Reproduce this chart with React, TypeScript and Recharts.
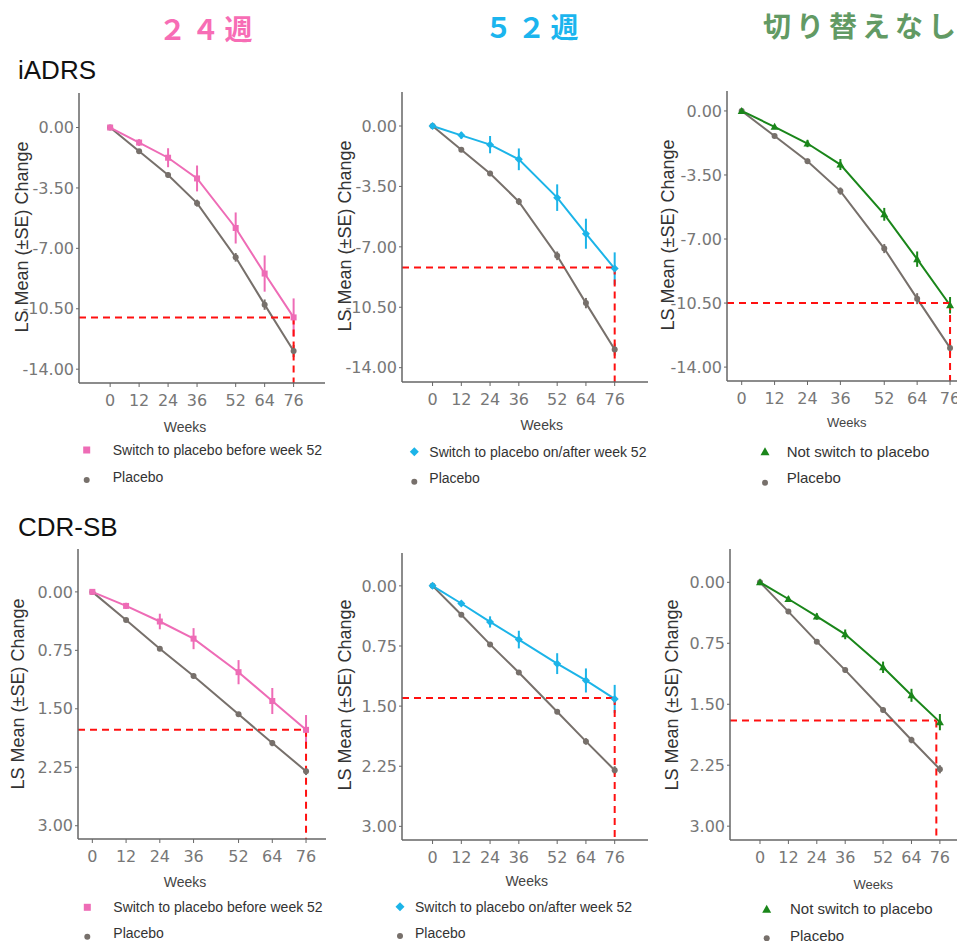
import React from 'react';
import { LineChart, Line, XAxis, YAxis, ErrorBar, ReferenceLine } from 'recharts';

// weeks on the x axis
const weeks = [0, 12, 24, 36, 52, 64, 76];
const iadrsTicks = [0, -3.5, -7, -10.5, -14];
const cdrTicks = [0, 0.75, 1.5, 2.25, 3];

// iADRS (LS mean change)
const iadrsPlacebo = [0, -1.37, -2.75, -4.38, -7.52, -10.26, -12.95];
const iadrsPlaceboSE = [0, 0.12, 0.15, 0.2, 0.25, 0.3, 0.35];
const iadrsSwitch24 = [0, -0.87, -1.75, -2.95, -5.82, -8.46, -11.0];
const iadrsSwitch24SE = [0, 0.2, 0.55, 0.75, 0.9, 1.05, 1.1];
const iadrsSwitch52 = [0, -0.54, -1.08, -1.93, -4.15, -6.24, -8.26];
const iadrsSwitch52SE = [0, 0.2, 0.5, 0.63, 0.77, 0.87, 0.94];
const iadrsNoSwitch = [0, -0.87, -1.78, -2.93, -5.65, -8.1, -10.62];
const iadrsNoSwitchSE = [0, 0.1, 0.2, 0.3, 0.35, 0.42, 0.45];
const iadrsRef = [-11.0, -8.2, -10.5];

// CDR-SB (LS mean change)
const cdrPlacebo = [0, 0.36, 0.73, 1.08, 1.57, 1.94, 2.3];
const cdrPlaceboSE = [0, 0.02, 0.02, 0.03, 0.03, 0.04, 0.05];
const cdrSwitch24 = [0, 0.18, 0.38, 0.6, 1.03, 1.4, 1.77];
const cdrSwitch24SE = [0, 0.04, 0.1, 0.135, 0.155, 0.167, 0.19];
const cdrSwitch52 = [0, 0.22, 0.45, 0.67, 0.97, 1.18, 1.41];
const cdrSwitch52SE = [0, 0.03, 0.07, 0.11, 0.13, 0.15, 0.175];
const cdrNoSwitch = [0, 0.205, 0.42, 0.64, 1.045, 1.39, 1.72];
const cdrNoSwitchSE = [0, 0.03, 0.04, 0.06, 0.07, 0.08, 0.1];
const cdrRef = [1.77, 1.4, 1.7];

const columnTitles = ['２４週', '５２週', '切り替えなし'];
const seriesNames = [
  'Switch to placebo before week 52',
  'Switch to placebo on/after week 52',
  'Not switch to placebo'
];

const PINK = '#ee6cb6';
const CYAN = '#1cb4e8';
const GREEN = '#1a861a';
const GRAY = '#77706b';
const RED = '#ff1010';

function rows(trt: number[], trtSE: number[], pbo: number[], pboSE: number[]) {
  return weeks.map((week, i) => ({
    week,
    trt: trt[i],
    trtSE: trtSE[i],
    pbo: pbo[i],
    pboSE: pboSE[i]
  }));
}

function Marker({ shape, cx, cy, color, size }: any) {
  const s = size / 2;
  if (shape === 'square')
    return <rect x={cx - s} y={cy - s} width={size} height={size} fill={color} />;
  if (shape === 'diamond')
    return (
      <polygon
        points={`${cx},${cy - s - 1} ${cx + s + 1},${cy} ${cx},${cy + s + 1} ${cx - s - 1},${cy}`}
        fill={color}
      />
    );
  if (shape === 'triangle')
    return (
      <polygon
        points={`${cx},${cy - s - 1} ${cx + s + 1},${cy + s} ${cx - s - 1},${cy + s}`}
        fill={color}
      />
    );
  return <circle cx={cx} cy={cy} r={s} fill={color} />;
}

const dotRenderer = (shape: string, color: string, size: number) => (p: any) => (
  <Marker key={`dot-${p.index}`} shape={shape} cx={p.cx} cy={p.cy} color={color} size={size} />
);

function Panel({ cfg }: any) {
  const tickStyle = { fill: '#777', fontSize: 16, fontFamily: 'DejaVu Sans' };
  const xMin = cfg.xDomain[0];
  const yBottom = cfg.reversed ? cfg.yDomain[1] : cfg.yDomain[0];
  return (
    <div style={{ position: 'absolute', left: cfg.left, top: cfg.top }}>
      <LineChart
        width={cfg.width}
        height={cfg.height}
        data={cfg.data}
        margin={{ top: 0, right: 0, bottom: 0, left: 0 }}
      >
        <XAxis
          type='number'
          dataKey='week'
          domain={cfg.xDomain}
          ticks={weeks}
          interval={0}
          allowDataOverflow
          height={40}
          tickSize={4}
          tickMargin={8}
          tick={tickStyle}
          axisLine={{ stroke: '#666', strokeWidth: 1.5 }}
          tickLine={{ stroke: '#666' }}
        />
        <YAxis
          type='number'
          domain={cfg.yDomain}
          ticks={cfg.yTicks}
          interval={0}
          reversed={cfg.reversed}
          allowDataOverflow
          width={60}
          tickSize={3}
          tickMargin={2}
          tick={tickStyle}
          tickFormatter={(v: number) => v.toFixed(2)}
          axisLine={{ stroke: '#666', strokeWidth: 1.5 }}
          tickLine={{ stroke: '#666' }}
        />
        <Line
          type='linear'
          dataKey='pbo'
          stroke={GRAY}
          strokeWidth={2}
          dot={dotRenderer('circle', GRAY, 6)}
          isAnimationActive={false}
        >
          <ErrorBar dataKey='pboSE' width={0} stroke={GRAY} strokeWidth={2} />
        </Line>
        <Line
          type='linear'
          dataKey='trt'
          stroke={cfg.color}
          strokeWidth={2}
          dot={dotRenderer(cfg.shape, cfg.color, 6)}
          isAnimationActive={false}
        >
          <ErrorBar dataKey='trtSE' width={0} stroke={cfg.color} strokeWidth={2} />
        </Line>
        <ReferenceLine
          segment={[
            { x: xMin, y: cfg.ref },
            { x: cfg.refWeek, y: cfg.ref }
          ]}
          stroke={RED}
          strokeWidth={2}
          strokeDasharray='7 5'
        />
        <ReferenceLine
          segment={[
            { x: cfg.refWeek, y: cfg.ref },
            { x: cfg.refWeek, y: yBottom }
          ]}
          stroke={RED}
          strokeWidth={2}
          strokeDasharray='7 5'
        />
      </LineChart>
    </div>
  );
}

function Legend({ cfg }: any) {
  const text = {
    position: 'absolute' as const,
    left: cfg.tx,
    fontSize: cfg.legendSize,
    color: '#333',
    lineHeight: '20px',
    whiteSpace: 'nowrap' as const,
    transform: 'translateY(-50%)'
  };
  return (
    <>
      <svg style={{ position: 'absolute', left: 0, top: 0, overflow: 'visible' }} width={1} height={1}>
        <Marker shape={cfg.shape} cx={cfg.mx} cy={cfg.my1} color={cfg.color} size={7} />
        <Marker shape='circle' cx={cfg.mx} cy={cfg.my2} color={GRAY} size={6} />
      </svg>
      <div style={{ ...text, top: cfg.ty1 }}>{cfg.name}</div>
      <div style={{ ...text, top: cfg.ty2 }}>Placebo</div>
      <div
        style={{
          position: 'absolute',
          left: cfg.wx - 40,
          width: 80,
          top: cfg.wy,
          transform: 'translateY(-50%)',
          textAlign: 'center',
          fontSize: cfg.weeksSize,
          color: '#444',
          lineHeight: '18px'
        }}
      >
        Weeks
      </div>
      <div
        style={{
          position: 'absolute',
          left: cfg.lx - 150,
          top: cfg.ly - 12,
          width: 300,
          height: 24,
          lineHeight: '24px',
          textAlign: 'center',
          fontSize: 18,
          color: '#333',
          whiteSpace: 'nowrap',
          transform: 'rotate(-90deg)'
        }}
      >
        LS Mean (±SE) Change
      </div>
    </>
  );
}

const panels = [
  {
    left: 19, top: 93, width: 306, height: 330,
    xDomain: [-12.9, 89], yDomain: [-14.8, 2], yTicks: iadrsTicks, reversed: false,
    data: rows(iadrsSwitch24, iadrsSwitch24SE, iadrsPlacebo, iadrsPlaceboSE),
    color: PINK, shape: 'square', ref: iadrsRef[0], refWeek: 76, name: seriesNames[0],
    mx: 86.7, my1: 450, my2: 480, tx: 112.7, ty1: 450, ty2: 476.7, legendSize: 14,
    wx: 185, wy: 426.7, weeksSize: 14, lx: 21.7, ly: 236.5
  },
  {
    left: 342, top: 92, width: 306, height: 330,
    xDomain: [-12.75, 89.9], yDomain: [-14.83, 1.97], yTicks: iadrsTicks, reversed: false,
    data: rows(iadrsSwitch52, iadrsSwitch52SE, iadrsPlacebo, iadrsPlaceboSE),
    color: CYAN, shape: 'diamond', ref: iadrsRef[1], refWeek: 76, name: seriesNames[1],
    mx: 414.3, my1: 451.7, my2: 481.7, tx: 429.3, ty1: 451.7, ty2: 478.3, legendSize: 14,
    wx: 541.7, wy: 425, weeksSize: 14, lx: 345, ly: 236
  },
  {
    left: 667, top: 91, width: 308, height: 330,
    xDomain: [-5.36, 85.1], yDomain: [-14.76, 1.09], yTicks: iadrsTicks, reversed: false,
    data: rows(iadrsNoSwitch, iadrsNoSwitchSE, iadrsPlacebo, iadrsPlaceboSE),
    color: GREEN, shape: 'triangle', ref: iadrsRef[2], refWeek: 76, name: seriesNames[2],
    mx: 765, my1: 451.7, my2: 482.7, tx: 786.7, ty1: 451.7, ty2: 478.3, legendSize: 15,
    wx: 846.7, wy: 423.3, weeksSize: 13, lx: 668, ly: 235
  },
  {
    left: 18, top: 549, width: 308, height: 330,
    xDomain: [-5.1, 83.1], yDomain: [-0.55, 3.17], yTicks: cdrTicks, reversed: true,
    data: rows(cdrSwitch24, cdrSwitch24SE, cdrPlacebo, cdrPlaceboSE),
    color: PINK, shape: 'square', ref: cdrRef[0], refWeek: 76, name: seriesNames[0],
    mx: 87.3, my1: 907.3, my2: 936.7, tx: 113.3, ty1: 907.3, ty2: 932.7, legendSize: 14,
    wx: 185, wy: 882.3, weeksSize: 14, lx: 18.3, ly: 693.5
  },
  {
    left: 342, top: 553, width: 306, height: 327,
    xDomain: [-12.75, 89.9], yDomain: [-0.41, 3.17], yTicks: cdrTicks, reversed: true,
    data: rows(cdrSwitch52, cdrSwitch52SE, cdrPlacebo, cdrPlaceboSE),
    color: CYAN, shape: 'diamond', ref: cdrRef[1], refWeek: 76, name: seriesNames[1],
    mx: 400, my1: 906.7, my2: 936, tx: 415, ty1: 906.7, ty2: 932.7, legendSize: 14,
    wx: 526.7, wy: 880.7, weeksSize: 14, lx: 345, ly: 695
  },
  {
    left: 670, top: 549, width: 290, height: 331,
    xDomain: [-12.67, 84.5], yDomain: [-0.41, 3.17], yTicks: cdrTicks, reversed: true,
    data: rows(cdrNoSwitch, cdrNoSwitchSE, cdrPlacebo, cdrPlaceboSE),
    color: GREEN, shape: 'triangle', ref: cdrRef[2], refWeek: 74.5, name: seriesNames[2],
    mx: 766.7, my1: 909.3, my2: 938.3, tx: 790, ty1: 909.3, ty2: 936, legendSize: 15,
    wx: 873.3, wy: 885, weeksSize: 13, lx: 671.7, ly: 695
  }
];

const titles = [
  { x: 208, y: 28, color: '#f76db5' },
  { x: 534, y: 26, color: '#1bb5ee' },
  { x: 862, y: 25, color: '#629a64' }
];

export default function App() {
  return (
    <div
      style={{
        position: 'absolute',
        left: 0,
        top: 0,
        width: 957,
        height: 941,
        overflow: 'hidden',
        background: '#fff',
        fontFamily: '"Liberation Sans", Arial, sans-serif'
      }}
    >
      {titles.map((t, i) => (
        <div
          key={i}
          style={{
            position: 'absolute',
            left: t.x - 150,
            width: 300,
            top: t.y - 20,
            height: 40,
            lineHeight: '40px',
            textAlign: 'center',
            fontFamily: '"Noto Sans CJK JP", sans-serif',
            fontWeight: 700,
            fontSize: 28,
            letterSpacing: 5,
            color: t.color,
            whiteSpace: 'nowrap'
          }}
        >
          {columnTitles[i]}
        </div>
      ))}
      <div style={{ position: 'absolute', left: 18, top: 54, fontSize: 26, lineHeight: '32px', color: '#111' }}>
        iADRS
      </div>
      <div style={{ position: 'absolute', left: 18, top: 511, fontSize: 26, lineHeight: '32px', color: '#111' }}>
        CDR-SB
      </div>
      {panels.map((p, i) => (
        <Panel key={`p${i}`} cfg={p} />
      ))}
      {panels.map((p, i) => (
        <Legend key={`l${i}`} cfg={p} />
      ))}
    </div>
  );
}
